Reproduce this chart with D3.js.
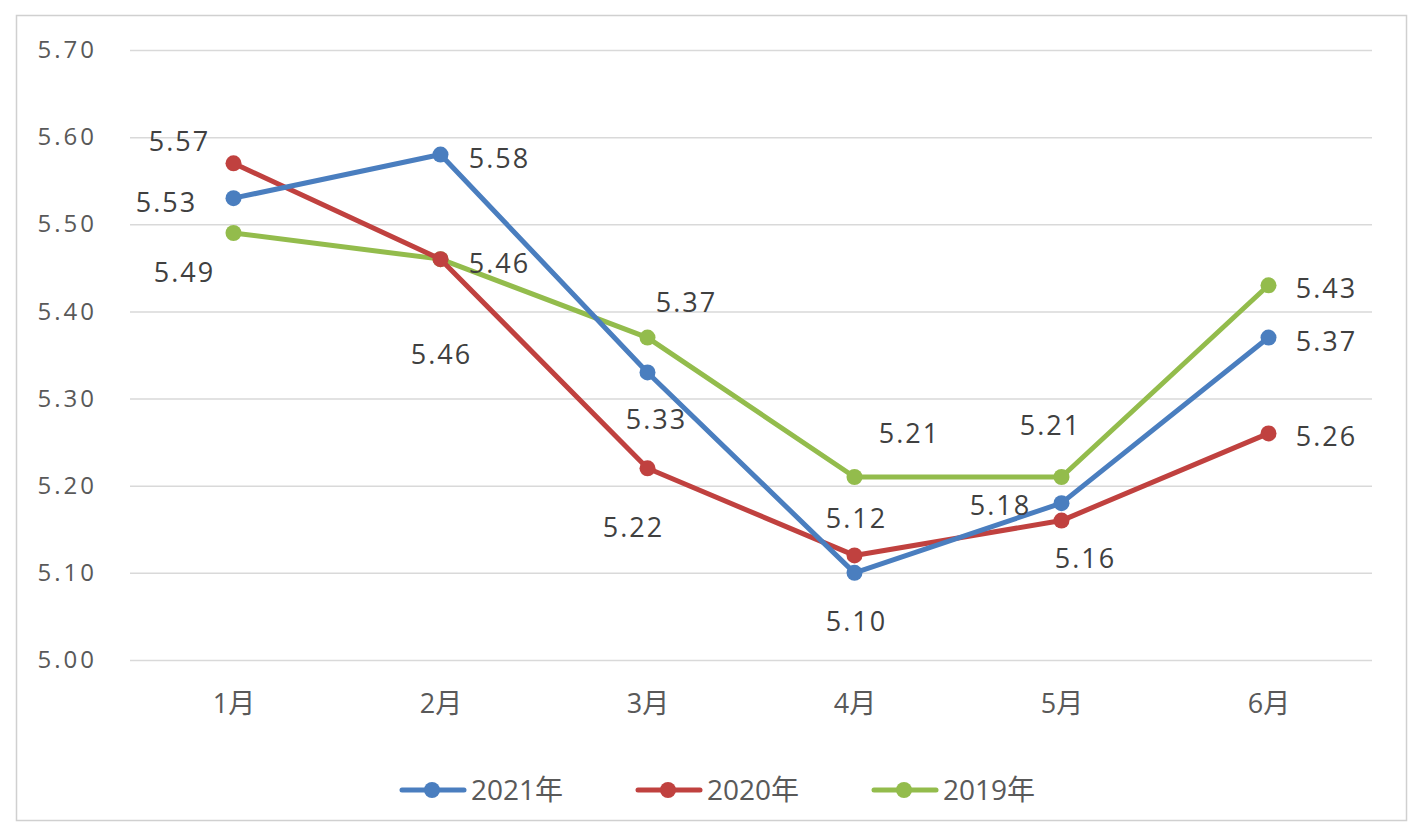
<!DOCTYPE html>
<html><head><meta charset="utf-8">
<script src="https://cdn.jsdelivr.net/npm/d3@7/dist/d3.min.js"></script>
<style>body{margin:0;background:#fff}svg{display:block}</style>
</head><body><svg id="c" width="1424" height="840"></svg>
<script>
const months = ["1月","2月","3月","4月","5月","6月"];
const seriesNames = ["2021年","2020年","2019年"];
const v2021 = [5.53,5.58,5.33,5.10,5.18,5.37];
const v2020 = [5.57,5.46,5.22,5.12,5.16,5.26];
const v2019 = [5.49,5.46,5.37,5.21,5.21,5.43];
const yTicks = [5.00,5.10,5.20,5.30,5.40,5.50,5.60,5.70];
const colors = ["#4a7ebf","#c0413f","#93bc4c"];
// label placement offsets (px) relative to each point
const off2021 = [[-68,3],[58,3],[8,46],[1,48],[-62,1],[57,3]];
const off2020 = [[-55,-23],[0,94],[-15,58],[1,-38],[23,37],[57,2]];
const off2019 = [[-50,38],[58,3],[38,-36],[54,-45],[-12,-53],[57,2]];

const svg = d3.select("#c");
svg.append("rect").attr("x",16.5).attr("y",15.5).attr("width",1390).attr("height",805)
  .attr("fill","#fff").attr("stroke","#d0d0d0").attr("stroke-width",1.5);

const x = d3.scalePoint().domain(months).range([130,1372]).padding(0.5);
const y = d3.scaleLinear().domain([5.0,5.7]).range([660,50]);

const yAxis = d3.axisLeft(y).tickValues(yTicks).tickFormat(d3.format(".2f")).tickSize(-(1372-130)).tickPadding(33);
const gy = svg.append("g").attr("transform","translate(130,0)").call(yAxis);
gy.select(".domain").remove();
gy.selectAll("line").attr("stroke","#d9d9d9").attr("stroke-width",1.5);
gy.selectAll("text").attr("fill","#595959").style("font-family","'Open Sans',Lato,sans-serif")
  .style("font-size","24px").style("letter-spacing","3px");

const xAxis = d3.axisBottom(x).tickSize(0).tickPadding(0);
const gx = svg.append("g").attr("transform","translate(0,702)").call(xAxis);
gx.select(".domain").remove();
gx.selectAll("text").attr("y",0).attr("dy",null).attr("dominant-baseline","central").attr("fill","#595959")
  .style("font-family","'Open Sans','Noto Sans CJK SC',sans-serif").style("font-size","27px");

const series = [
  {name:seriesNames[0], vals:v2021, off:off2021, color:colors[0]},
  {name:seriesNames[1], vals:v2020, off:off2020, color:colors[1]},
  {name:seriesNames[2], vals:v2019, off:off2019, color:colors[2]}
];
const line = d3.line().x((d,i)=>x(months[i])).y(d=>y(d));
[2,1,0].forEach(k=>{
  const s = series[k];
  svg.append("path").datum(s.vals).attr("d",line).attr("fill","none")
    .attr("stroke",s.color).attr("stroke-width",5).attr("stroke-linejoin","round");
  svg.append("g").selectAll("circle").data(s.vals).join("circle")
    .attr("cx",(d,i)=>x(months[i])).attr("cy",d=>y(d)).attr("r",8).attr("fill",s.color);
});
series.forEach(s=>{
  svg.append("g").selectAll("text").data(s.vals).join("text")
    .attr("x",(d,i)=>x(months[i])+s.off[i][0]+1).attr("y",(d,i)=>y(d)+s.off[i][1])
    .attr("text-anchor","middle").attr("dominant-baseline","central")
    .attr("fill","#404040").style("font-family","'Open Sans',Lato,sans-serif")
    .style("font-size","27px").style("letter-spacing","2px")
    .text(d=>d3.format(".2f")(d));
});

// legend
const lg = svg.append("g").attr("transform","translate(0,790)");
series.forEach((s,i)=>{
  const x0 = 400 + i*236;
  const g = lg.append("g").attr("transform",`translate(${x0},0)`);
  g.append("line").attr("x1",2).attr("x2",64).attr("y1",0).attr("y2",0).attr("stroke",s.color).attr("stroke-width",5).attr("stroke-linecap","round");
  g.append("circle").attr("cx",32).attr("cy",0).attr("r",8).attr("fill",s.color);
  g.append("text").attr("x",71).attr("y",-1).attr("dominant-baseline","central")
    .attr("fill","#595959").style("font-family","'Open Sans','Noto Sans CJK SC',sans-serif").style("font-size","28px").text(s.name);
});
</script></body></html>
